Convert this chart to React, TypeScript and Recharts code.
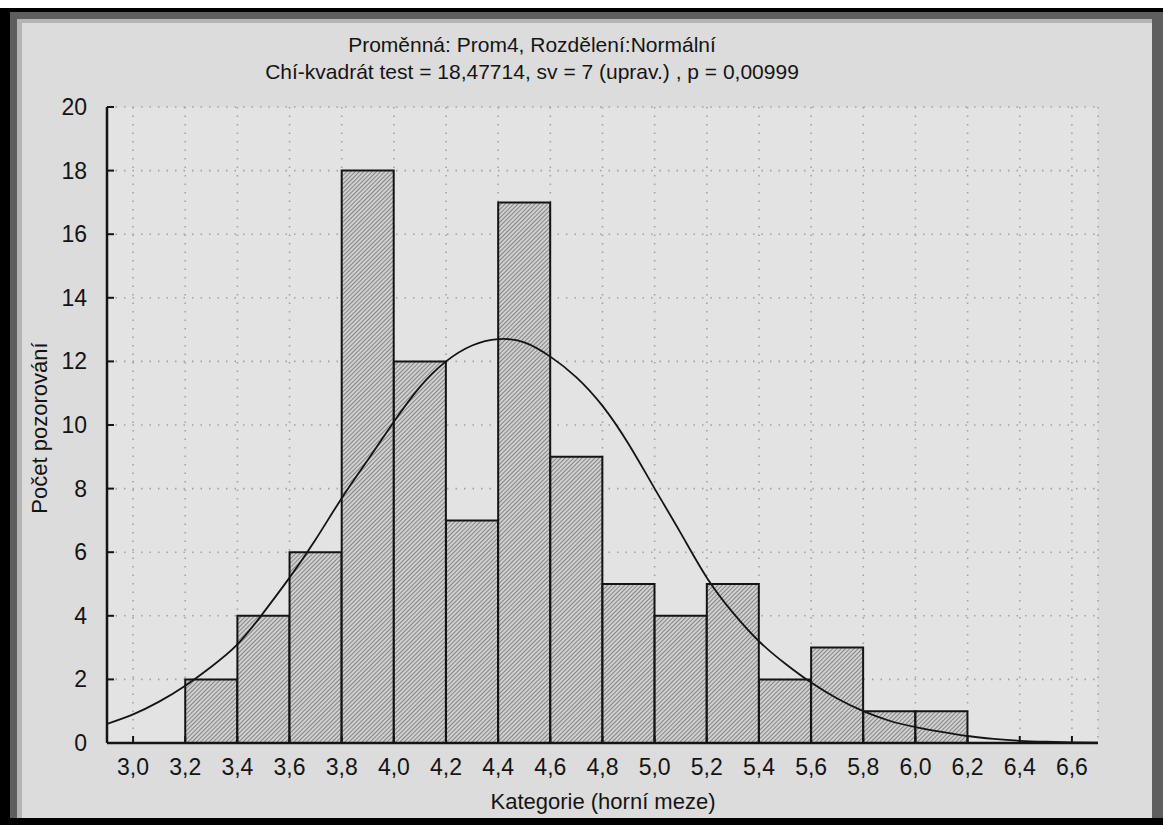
import {
  Bar,
  CartesianGrid,
  ComposedChart,
  Line,
  XAxis,
  YAxis,
} from "recharts";

// Histogram of Prom4 with fitted normal curve (Statistica style, photo of print).

const X_TICKS = [3.0, 3.2, 3.4, 3.6, 3.8, 4.0, 4.2, 4.4, 4.6, 4.8, 5.0, 5.2, 5.4, 5.6, 5.8, 6.0, 6.2, 6.4, 6.6];
const Y_TICKS = [0, 2, 4, 6, 8, 10, 12, 14, 16, 18, 20];

// lower edge of every bin (width 0.2) and its count
const BIN_LOWER = [3.2, 3.4, 3.6, 3.8, 4.0, 4.2, 4.4, 4.6, 4.8, 5.0, 5.2, 5.4, 5.6, 5.8, 6.0];
const BIN_COUNTS = [2, 4, 6, 18, 12, 7, 17, 9, 5, 4, 5, 2, 3, 1, 1];

// expected counts
const CURVE_X = [
  2.9, 3.0, 3.1, 3.2, 3.3, 3.4, 3.5, 3.6, 3.7, 3.8, 3.9, 4.0, 4.1, 4.2, 4.3, 4.4, 4.5, 4.6, 4.7, 4.8,
  4.9, 5.0, 5.1, 5.2, 5.3, 5.4, 5.5, 5.6, 5.7, 5.8, 5.9, 6.0, 6.1, 6.2, 6.3, 6.4, 6.5, 6.6, 6.7,
];
const CURVE_Y = [
  0.6, 0.9, 1.3, 1.8, 2.4, 3.1, 4.1, 5.2, 6.4, 7.7, 8.9, 10.1, 11.2, 12.0, 12.5, 12.7, 12.6, 12.15, 11.5, 10.6,
  9.4, 8.0, 6.6, 5.2, 4.1, 3.2, 2.5, 1.9, 1.4, 1.0, 0.7, 0.5, 0.35, 0.22, 0.13, 0.07, 0.04, 0.02, 0.01,
];

const X_DOMAIN: [number, number] = [2.9, 6.7];
const Y_DOMAIN: [number, number] = [0, 20];

const FONT = '"Liberation Sans", Arial, sans-serif';
const INK = "#141414";

const bins = BIN_LOWER.map((lo, i) => ({ x: lo + 0.1, count: BIN_COUNTS[i] }));
const curve = CURVE_X.map((x, i) => ({ x, y: CURVE_Y[i] }));

const fmt = (v: number) => v.toFixed(1).replace(".", ",");

function BottomTick({ x, y, payload }: any) {
  return (
    <g>
      <line x1={x} y1={y} x2={x} y2={y - 7} stroke={INK} strokeWidth={2} />
      <text x={x} y={y + 32} textAnchor="middle" fontSize={23} fill={INK} fontFamily={FONT}>
        {fmt(payload.value)}
      </text>
    </g>
  );
}

function TopTick({ x, y }: any) {
  return <line x1={x} y1={y} x2={x} y2={y + 7} stroke={INK} strokeWidth={2} />;
}

function LeftTick({ x, y, payload }: any) {
  return (
    <g>
      <line x1={x} y1={y} x2={x + 7} y2={y} stroke={INK} strokeWidth={2} />
      <text x={x - 20} y={y + 8} textAnchor="end" fontSize={23} fill={INK} fontFamily={FONT}>
        {payload.value}
      </text>
    </g>
  );
}

function RightTick({ x, y }: any) {
  return <line x1={x} y1={y} x2={x - 7} y2={y} stroke={INK} strokeWidth={2} />;
}

export default function App() {
  return (
    <div
      style={{
        position: "fixed",
        left: 0,
        top: 0,
        width: 1163,
        height: 825,
        background: "#000",
        overflow: "hidden",
        fontFamily: FONT,
      }}
    >
      {/* photo frame */}
      <div style={{ position: "absolute", left: 0, top: 0, width: 1163, height: 8, background: "#fff" }} />
      <div style={{ position: "absolute", left: 10, top: 12, width: 1153, height: 806, background: "#5e5e5e" }} />
      <div style={{ position: "absolute", left: 17, top: 19, width: 1135, height: 799, background: "#b4b4b4" }} />
      <div style={{ position: "absolute", left: 22, top: 23, width: 1130, height: 795, background: "#dcdcdc" }} />

      <div
        style={{
          position: "absolute",
          left: 0,
          top: 31,
          width: 1064,
          textAlign: "center",
          fontSize: 21,
          lineHeight: "27px",
          color: INK,
        }}
      >
        <div>Proměnná: Prom4, Rozdělení:Normální</div>
        <div>Chí-kvadrát test = 18,47714, sv = 7 (uprav.) , p = 0,00999</div>
      </div>

      <div style={{ position: "absolute", left: 0, top: 0 }}>
        <ComposedChart
          width={1163}
          height={825}
          data={bins}
          margin={{ top: 107, right: 65, bottom: 42, left: 47 }}
          barCategoryGap={0}
          barGap={0}
        >
          <defs>
            <pattern id="hatch" patternUnits="userSpaceOnUse" width={3} height={3} patternTransform="rotate(45)">
              <rect width={3} height={3} fill="#d0d0d0" />
              <line x1={0} y1={0} x2={0} y2={3} stroke="#5c5c5c" strokeWidth={1.3} />
            </pattern>
          </defs>
          <CartesianGrid fill="#e3e3e3" stroke="#a2a2a2" strokeDasharray="1.5 7" strokeWidth={1.6} />
          <XAxis
            dataKey="x"
            type="number"
            domain={X_DOMAIN}
            ticks={X_TICKS}
            allowDataOverflow
            height={40}
            tickSize={0}
            tickMargin={0}
            tickLine={false}
            axisLine={{ stroke: INK, strokeWidth: 2.5 }}
            tick={<BottomTick />}
            interval={0}
          />
          <XAxis
            xAxisId="top"
            orientation="top"
            dataKey="x"
            type="number"
            domain={X_DOMAIN}
            ticks={X_TICKS}
            allowDataOverflow
            height={0}
            tickSize={0}
            tickMargin={0}
            tickLine={false}
            axisLine={{ stroke: INK, strokeWidth: 2.5 }}
            tick={<TopTick />}
            interval={0}
          />
          <XAxis
            xAxisId="curve"
            dataKey="x"
            type="number"
            domain={X_DOMAIN}
            allowDataOverflow
            hide
          />
          <YAxis
            type="number"
            domain={Y_DOMAIN}
            ticks={Y_TICKS}
            width={60}
            tickSize={0}
            tickMargin={0}
            tickLine={false}
            axisLine={{ stroke: INK, strokeWidth: 2.5 }}
            tick={<LeftTick />}
            interval={0}
          />
          <YAxis
            yAxisId="right"
            orientation="right"
            type="number"
            domain={Y_DOMAIN}
            ticks={Y_TICKS}
            width={0}
            tickSize={0}
            tickMargin={0}
            tickLine={false}
            axisLine={{ stroke: INK, strokeWidth: 2.5 }}
            tick={<RightTick />}
            interval={0}
          />
          <Bar
            dataKey="count"
            fill="url(#hatch)"
            stroke={INK}
            strokeWidth={2}
            isAnimationActive={false}
          />
          <Line
            xAxisId="curve"
            data={curve}
            dataKey="y"
            type="natural"
            stroke={INK}
            strokeWidth={1.8}
            dot={false}
            activeDot={false}
            isAnimationActive={false}
          />
        </ComposedChart>
      </div>

      <div
        style={{
          position: "absolute",
          left: 603 - 200,
          top: 789,
          width: 400,
          textAlign: "center",
          fontSize: 22,
          color: INK,
        }}
      >
        Kategorie (horní meze)
      </div>
      <div
        style={{
          position: "absolute",
          left: 40 - 150,
          top: 428 - 14,
          width: 300,
          height: 28,
          lineHeight: "28px",
          textAlign: "center",
          fontSize: 22,
          color: INK,
          transform: "rotate(-90deg)",
        }}
      >
        Počet pozorování
      </div>
    </div>
  );
}
